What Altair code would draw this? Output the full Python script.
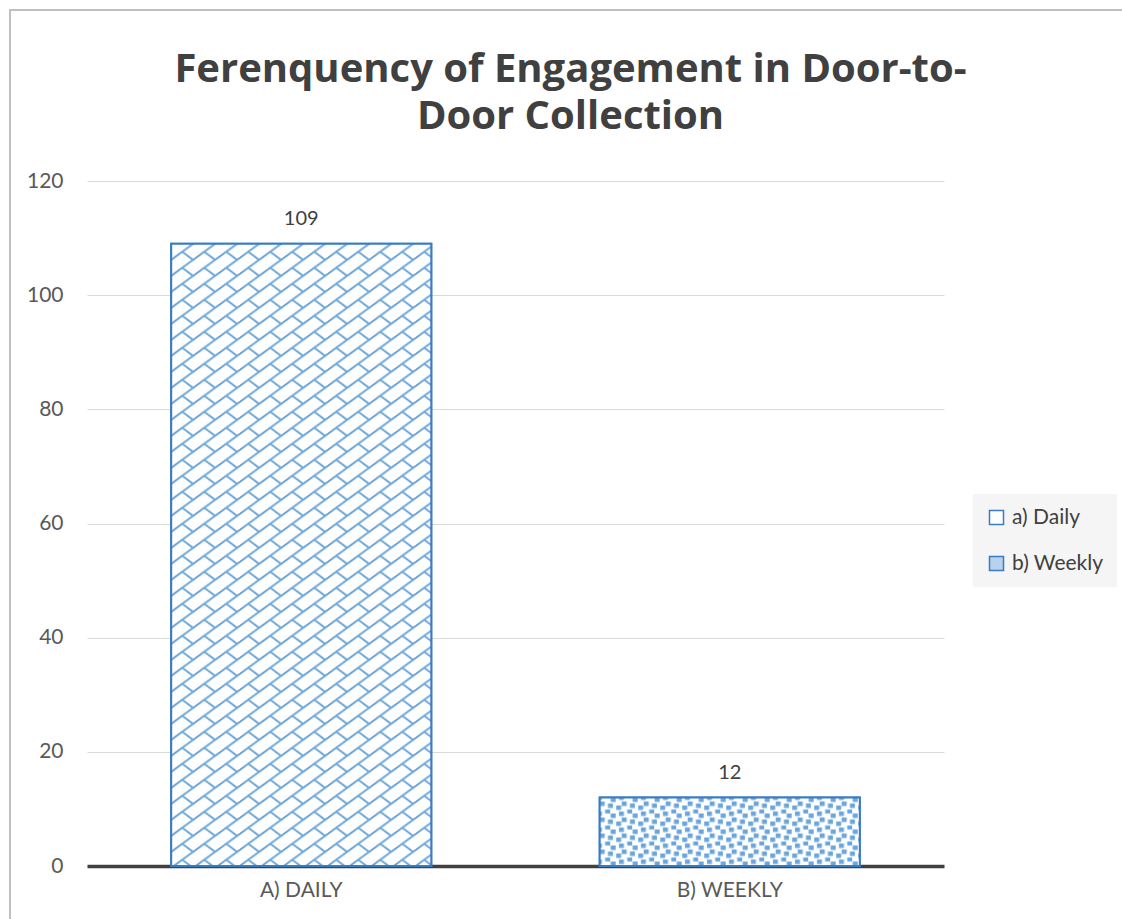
import base64
import altair as alt
import pandas as pd

# Chart values
categories = ["A) DAILY", "B) WEEKLY"]
responses = [109, 12]
legend_labels = ["a) Daily", "b) Weekly"]

title_lines = ["Ferenquency of Engagement in Door-to-", "Door Collection"]

BLUE = "#5b9bd5"
EDGE = "#3a7cc4"
TEXT = "#595959"
FONT = "Lato"


def svg_uri(svg):
    return "data:image/svg+xml;base64," + base64.b64encode(svg.encode()).decode()


def pattern_svg(tile, w, h):
    return (
        '<svg xmlns="http://www.w3.org/2000/svg" width="100%" height="100%">'
        f'<defs><pattern id="p" width="{w}" height="{h}" patternUnits="userSpaceOnUse">'
        + tile
        + '</pattern></defs>'
        '<rect width="100%" height="100%" fill="#ffffff"/>'
        '<rect width="100%" height="100%" fill="url(#p)"/></svg>'
    )


# Diagonal brick texture (22 x 16 tile)
brick = pattern_svg(
    '<path d="M-2.75,18 L24.75,-2 M-2.75,2 L2.75,-2 M19.25,18 L24.75,14 M11,8 L22.5,16.4" '
    f'stroke="{BLUE}" stroke-width="2" fill="none" stroke-opacity="0.9"/>',
    22,
    16,
)
# Large confetti texture (22 x 16 tile)
dots = [
    (11, 0), (0, 4), (8.25, 6), (16.5, 8), (5.5, 12),
    (19.25, 14), (-2.75, 14), (19.25, -2), (-2.75, -2),
]
confetti = pattern_svg(
    "".join(
        f'<rect x="{x}" y="{y}" width="5" height="4.5" fill="{BLUE}" opacity="0.9"/>'
        for x, y in dots
    ),
    22,
    16,
)
textures = [svg_uri(brick), svg_uri(confetti)]

df = pd.DataFrame(
    {
        "category": categories,
        "value": responses,
        "series": legend_labels,
        "texture": textures,
    }
)

x_enc = alt.X(
    "category:N",
    sort=categories,
    scale=alt.Scale(paddingInner=0.393, paddingOuter=0.1965),
    axis=alt.Axis(
        title=None,
        labelAngle=0,
        labelFont=FONT,
        labelFontSize=21,
        labelColor=TEXT,
        labelPadding=13,
        ticks=False,
        domainColor="#404040",
        domainWidth=3.5,
        grid=False,
    ),
)
y_enc = alt.Y(
    "value:Q",
    scale=alt.Scale(domain=[0, 120], nice=False),
    axis=alt.Axis(
        title=None,
        values=[0, 20, 40, 60, 80, 100, 120],
        labelFont=FONT,
        labelFontSize=21,
        labelColor=TEXT,
        labelPadding=24,
        ticks=False,
        domain=False,
        grid=True,
        gridColor="#d9d9d9",
        gridWidth=1,
    ),
)

base = alt.Chart(df)

bars = base.mark_bar(stroke=EDGE, strokeWidth=2).encode(
    x=x_enc,
    y=y_enc,
    fill=alt.Fill(
        "series:N",
        scale=alt.Scale(domain=legend_labels, range=["#ffffff", "#b7d1ee"]),
        legend=alt.Legend(
            title=None,
            orient="none",
            legendX=886,
            legendY=313,
            padding=13,
            fillColor="#f5f5f5",
            symbolType="square",
            symbolSize=196,
            symbolStrokeColor=EDGE,
            symbolStrokeWidth=1.5,
            labelFont=FONT,
            labelFontSize=21,
            labelColor="#404040",
            labelOffset=5,
            rowPadding=24,
        ),
    ),
)

texture = base.mark_image(aspect=False).encode(
    x=alt.X("category:N", sort=categories),
    y=alt.Y("value:Q"),
    y2=alt.datum(0),
    url="texture:N",
)

outline = base.mark_bar(fillOpacity=0, stroke=EDGE, strokeWidth=2).encode(
    x=alt.X("category:N", sort=categories),
    y=alt.Y("value:Q"),
)

labels = base.mark_text(
    dy=-19, baseline="alphabetic", font=FONT, fontSize=20, color="#404040"
).encode(
    x=alt.X("category:N", sort=categories),
    y=alt.Y("value:Q"),
    text="value:Q",
)

# Light grey border round the whole chart
frame = (
    alt.Chart(alt.Data(values=[{"k": 1}]))
    .mark_rect(fill="transparent", stroke="#bfbfbf", strokeWidth=2)
    .encode(
        x=alt.value(-77),
        x2=alt.value(1150),
        y=alt.value(-171),
        y2=alt.value(900),
    )
)

chart = (
    alt.layer(frame, bars, texture, outline, labels)
    .properties(
        width=857,
        height=685,
        padding={"left": 87, "top": 181, "right": 178, "bottom": 53},
        autosize=alt.AutoSizeParams(type="none"),
        title=alt.TitleParams(
            text=title_lines,
            font="Open Sans",
            fontSize=40,
            fontWeight="bold",
            color="#404040",
            anchor="middle",
            dx=55,
            lineHeight=47,
            offset=-128,
        ),
    )
    .configure_view(stroke=None)
)

chart.save("out.html", embed_options={"renderer": "svg", "actions": False})
